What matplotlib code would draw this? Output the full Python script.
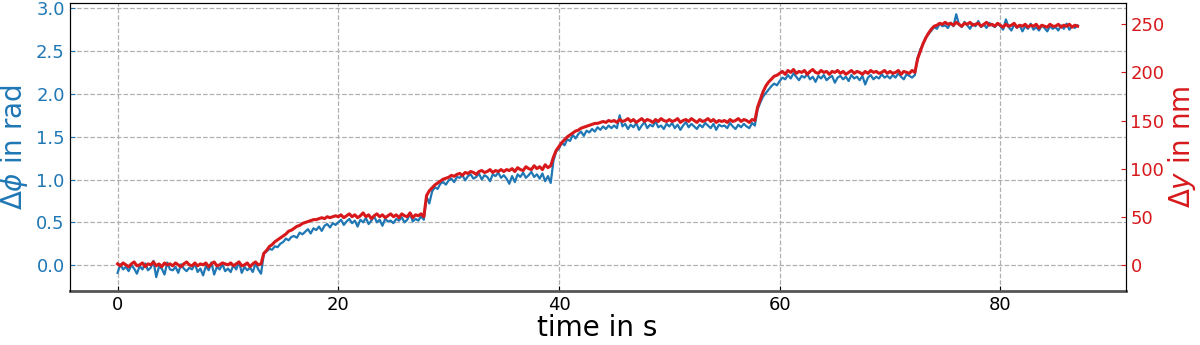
import numpy as np
import matplotlib
matplotlib.use('Agg')
import matplotlib.pyplot as plt

# sampling step of the recorded traces (s)
dt = 0.25

# phase difference in rad (one row = 5 s)
phase_rad = [
    -0.09, 0.01, -0.05, -0.02, -0.07, 0.00, -0.04, -0.10, -0.01, -0.05, 0.02, -0.06, -0.03, 0.05, -0.14, -0.02, -0.04, -0.11, 0.03, -0.05,
    -0.06, -0.02, -0.09, 0.01, -0.04, -0.07, -0.03, -0.05, 0.02, -0.08, -0.04, -0.12, -0.01, -0.06, 0.03, -0.11, -0.02, -0.05, 0.01, -0.07,
    -0.04, -0.08, 0.00, -0.05, 0.04, -0.09, -0.02, -0.06, -0.03, -0.08, 0.02, -0.05, -0.10, 0.13, 0.16, 0.19, 0.18, 0.22, 0.21, 0.25,
    0.27, 0.31, 0.29, 0.33, 0.34, 0.32, 0.38, 0.36, 0.39, 0.42, 0.37, 0.43, 0.41, 0.45, 0.40, 0.46, 0.48, 0.44, 0.49, 0.47,
    0.50, 0.53, 0.47, 0.51, 0.54, 0.49, 0.52, 0.45, 0.53, 0.50, 0.55, 0.48, 0.52, 0.57, 0.50, 0.53, 0.46, 0.54, 0.51, 0.52,
    0.49, 0.54, 0.52, 0.56, 0.50, 0.53, 0.60, 0.51, 0.54, 0.52, 0.57, 0.53, 0.80, 0.72, 0.86, 0.91, 0.89, 0.95, 0.97, 0.94,
    0.99, 1.01, 0.97, 1.03, 1.02, 1.05, 0.99, 1.04, 1.06, 1.01, 1.03, 1.07, 1.00, 1.05, 1.03, 0.98, 1.06, 1.04, 1.08, 1.02,
    1.05, 1.01, 0.95, 1.04, 0.97, 1.06, 1.03, 1.08, 1.02, 1.05, 1.09, 1.03, 1.06, 1.01, 1.07, 0.98, 1.04, 0.96, 1.22, 1.33,
    1.36, 1.43, 1.40, 1.47, 1.45, 1.52, 1.48, 1.53, 1.56, 1.51, 1.57, 1.55, 1.59, 1.56, 1.61, 1.58, 1.62, 1.59, 1.63, 1.60,
    1.63, 1.60, 1.75, 1.62, 1.65, 1.59, 1.64, 1.61, 1.66, 1.58, 1.63, 1.67, 1.60, 1.64, 1.62, 1.68, 1.61, 1.63, 1.59, 1.65,
    1.62, 1.66, 1.60, 1.64, 1.58, 1.63, 1.67, 1.61, 1.65, 1.62, 1.59, 1.64, 1.61, 1.66, 1.63, 1.60, 1.65, 1.58, 1.64, 1.62,
    1.63, 1.60, 1.66, 1.62, 1.59, 1.64, 1.61, 1.65, 1.62, 1.60, 1.66, 1.63, 1.82, 1.90, 1.97, 2.01, 2.05, 2.09, 2.12, 2.10,
    2.15, 2.19, 2.17, 2.22, 2.18, 2.24, 2.20, 2.16, 2.21, 2.19, 2.23, 2.17, 2.20, 2.14, 2.21, 2.18, 2.22, 2.16, 2.19, 2.21,
    2.13, 2.19, 2.21, 2.17, 2.20, 2.15, 2.22, 2.18, 2.20, 2.16, 2.21, 2.11, 2.19, 2.22, 2.17, 2.20, 2.18, 2.23, 2.19, 2.21,
    2.18, 2.22, 2.19, 2.24, 2.20, 2.17, 2.23, 2.21, 2.19, 2.22, 2.42, 2.52, 2.58, 2.66, 2.70, 2.74, 2.78, 2.76, 2.82, 2.79,
    2.80, 2.77, 2.83, 2.79, 2.93, 2.81, 2.78, 2.84, 2.80, 2.76, 2.82, 2.79, 2.85, 2.78, 2.81, 2.77, 2.83, 2.80, 2.78, 2.82,
    2.79, 2.75, 2.87, 2.78, 2.74, 2.81, 2.77, 2.80, 2.73, 2.79, 2.76, 2.82, 2.75, 2.78, 2.74, 2.80, 2.77, 2.73, 2.79, 2.76,
    2.78, 2.74, 2.80, 2.76, 2.82, 2.75, 2.79, 2.77, 2.80,
]

# displacement in nm (one row = 5 s)
disp_nm = [
    1, -1, 2, 0, -2, 1, 3, -1, 0, 2, -2, 1, 0, 3, -1, 1, -2, 2, 0, 1,
    -1, 2, 0, -2, 1, 3, 0, -1, 2, -1, 1, 0, 2, -2, 1, 3, -1, 0, 2, 1,
    0, 2, -1, 1, 3, -1, 0, 2, -2, 1, 3, 0, 1, 12, 15, 19, 21, 24, 26, 28,
    30, 32, 35, 36, 38, 40, 41, 43, 44, 45, 46, 47, 47, 48, 49, 48, 50, 49, 50, 51,
    50, 52, 49, 51, 53, 50, 52, 49, 51, 54, 50, 52, 48, 51, 53, 50, 52, 49, 51, 53,
    50, 52, 49, 53, 51, 50, 54, 49, 52, 51, 53, 50, 72, 77, 80, 83, 85, 87, 89, 90,
    91, 93, 92, 94, 95, 93, 96, 95, 97, 96, 94, 97, 98, 96, 97, 99, 96, 98, 97, 99,
    97, 99, 98, 100, 97, 101, 99, 98, 102, 100, 99, 103, 100, 102, 99, 104, 101, 103, 112, 119,
    123, 127, 130, 133, 135, 137, 139, 140, 142, 143, 144, 145, 146, 147, 147, 148, 149, 148, 150, 149,
    150, 148, 151, 149, 150, 152, 149, 151, 148, 150, 152, 149, 151, 150, 148, 151, 149, 152, 150, 149,
    151, 149, 150, 152, 148, 150, 151, 149, 152, 150, 148, 151, 149, 150, 152, 149, 151, 148, 150, 149,
    150, 148, 151, 149, 150, 152, 149, 151, 150, 148, 151, 150, 164, 172, 180, 186, 190, 193, 196, 197,
    199, 201, 198, 202, 200, 203, 199, 201, 200, 202, 198, 201, 203, 200, 199, 202, 200, 201, 198, 201,
    200, 202, 199, 201, 198, 200, 202, 199, 201, 200, 198, 201, 199, 202, 200, 201, 199, 200, 202, 199,
    201, 199, 200, 202, 198, 201, 200, 199, 202, 200, 214, 222, 230, 236, 241, 245, 248, 249, 251, 250,
    252, 250, 251, 249, 252, 250, 248, 251, 250, 252, 249, 250, 251, 248, 250, 252, 249, 250, 248, 251,
    249, 247, 250, 248, 249, 251, 247, 249, 248, 250, 247, 249, 248, 250, 246, 249, 248, 247, 250, 248,
    248, 250, 247, 249, 248, 250, 247, 249, 248,
]

time_s = np.arange(len(phase_rad)) * dt

blue = '#1f77b4'
red = '#d7191c'

fig = plt.figure(figsize=(12, 3.45), dpi=100)
ax = fig.add_axes([0.058, 0.157, 0.880, 0.834])
ax2 = ax.twinx()

ax.plot(time_s, phase_rad, color=blue, lw=1.6)
ax2.plot(time_s, disp_nm, color=red, lw=2.2)

ax.set_ylim(-0.30, 3.06)
ax2.set_ylim(-27, 272)
ax.set_yticks([0.0, 0.5, 1.0, 1.5, 2.0, 2.5, 3.0])
ax2.set_yticks([0, 50, 100, 150, 200, 250])
ax.set_xticks([0, 20, 40, 60, 80])

ax.grid(True, ls='--', color='#b0b0b0', lw=0.9)
ax.set_xlabel('time in s', fontsize=20, labelpad=0)
ax.set_ylabel(r'$\Delta\phi$ in rad', fontsize=20, color=blue, labelpad=4)
ax2.set_ylabel(r'$\Delta y$ in nm', fontsize=20, color=red, labelpad=1)

ax.tick_params(axis='both', direction='in', labelsize=13)
ax.tick_params(axis='y', colors=blue)
ax.tick_params(axis='x', colors='black')
ax2.tick_params(axis='y', direction='in', labelsize=13, colors=red)

ax.spines['bottom'].set_color('#555555')
ax.spines['bottom'].set_linewidth(2)
ax2.spines['bottom'].set_visible(False)

fig.savefig('out.png', dpi=100)
